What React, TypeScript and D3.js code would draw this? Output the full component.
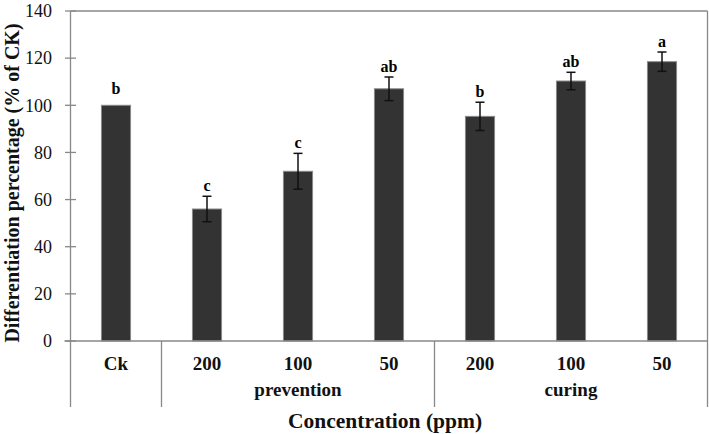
import React from "react";
import { scaleBand, scaleLinear, range } from "d3";

// values
const categories = ["Ck", "200", "100", "50", "200", "100", "50"];
const values = [100, 56, 72, 107, 95.3, 110.3, 118.5];
const errors = [0, 5.4, 7.6, 5, 6, 3.7, 4.1];
const letters = ["b", "c", "c", "ab", "b", "ab", "a"];
const groupNames = ["", "prevention", "curing"];
const groupStarts = [0, 1, 4];
const groupEnds = [1, 4, 7];
const yTicks = [0, 20, 40, 60, 80, 100, 120, 140];

const width = 709,
  height = 434;
const margin = { top: 11, right: 1.5, bottom: 93, left: 70.5 };
const font = "'Liberation Serif', 'Times New Roman', serif";
const axisColor = "#888";

export default function App() {
  const innerWidth = width - margin.left - margin.right;
  const innerHeight = height - margin.top - margin.bottom;

  const x = scaleBand<number>()
    .domain(range(categories.length))
    .range([0, innerWidth])
    .paddingInner(0.68)
    .paddingOuter(0.34);

  const y = scaleLinear().domain([0, 140]).range([innerHeight, 0]);

  const step = x.step();
  const edge = (i: number) => i * step;

  return (
    <svg
      width={width}
      height={height}
      style={{ position: "absolute", left: 0, top: 0, background: "#fff" }}
    >
      <g transform={`translate(${margin.left}, ${margin.top})`}>
        {/* plot frame */}
        <line x1={0} x2={innerWidth} y1={0} y2={0} stroke={axisColor} strokeWidth={1.3} />
        <line x1={innerWidth} x2={innerWidth} y1={0} y2={innerHeight + 66} stroke={axisColor} strokeWidth={1.3} />

        {/* bars */}
        {values.map((v, i) => (
          <rect
            key={i}
            x={x(i)}
            y={y(v)}
            width={x.bandwidth()}
            height={innerHeight - y(v)}
            fill="#333"
            stroke="#8a8a8a"
            strokeWidth={1}
          />
        ))}

        {/* error bars */}
        {values.map((v, i) => {
          if (!errors[i]) return null;
          const cx = (x(i) as number) + x.bandwidth() / 2;
          return (
            <g key={i} stroke="#111" strokeWidth={1.5}>
              <line x1={cx} x2={cx} y1={y(v + errors[i])} y2={y(v - errors[i])} />
              <line x1={cx - 4.5} x2={cx + 4.5} y1={y(v + errors[i])} y2={y(v + errors[i])} />
              <line x1={cx - 4.5} x2={cx + 4.5} y1={y(v - errors[i])} y2={y(v - errors[i])} />
            </g>
          );
        })}

        {/* significance letters */}
        {values.map((v, i) => (
          <text
            key={i}
            x={(x(i) as number) + x.bandwidth() / 2}
            y={y(v + errors[i]) - (errors[i] ? 5 : 11)}
            textAnchor="middle"
            fontFamily={font}
            fontWeight="bold"
            fontSize={16}
          >
            {letters[i]}
          </text>
        ))}

        {/* y axis */}
        <line x1={0} x2={0} y1={0} y2={innerHeight + 66} stroke={axisColor} strokeWidth={1.3} />
        {yTicks.map(t => (
          <g key={t} transform={`translate(0, ${y(t)})`}>
            <line x1={-5.5} x2={5.5} stroke={axisColor} strokeWidth={1.3} />
            <text
              x={-18.5}
              dy="0.35em"
              textAnchor="end"
              fontFamily={font}
              fontSize={18}
              fill="#111"
            >
              {t}
            </text>
          </g>
        ))}

        {/* x axis */}
        <line x1={-6} x2={innerWidth} y1={innerHeight} y2={innerHeight} stroke={axisColor} strokeWidth={1.3} />
        {groupEnds.map((e, gi) =>
          e < categories.length ? (
            <line
              key={gi}
              x1={edge(e)}
              x2={edge(e)}
              y1={innerHeight}
              y2={innerHeight + 66}
              stroke={axisColor}
              strokeWidth={1.3}
            />
          ) : null
        )}
        {categories.map((c, i) => (
          <text
            key={i}
            x={(x(i) as number) + x.bandwidth() / 2}
            y={innerHeight + 29}
            textAnchor="middle"
            fontFamily={font}
            fontWeight="bold"
            fontSize={19}
            fill="#111"
          >
            {c}
          </text>
        ))}
        {groupNames.map((g, gi) => (
          <text
            key={gi}
            x={(edge(groupStarts[gi]) + edge(groupEnds[gi])) / 2}
            y={innerHeight + 55}
            textAnchor="middle"
            fontFamily={font}
            fontWeight="bold"
            fontSize={19}
            fill="#111"
          >
            {g}
          </text>
        ))}
        <text
          x={innerWidth / 2 - 4}
          y={innerHeight + 87}
          textAnchor="middle"
          fontFamily={font}
          fontWeight="bold"
          fontSize={21.5}
          fill="#111"
        >
          Concentration (ppm)
        </text>
        <text
          transform={`translate(${-52}, ${innerHeight / 2 + 7}) rotate(-90)`}
          textAnchor="middle"
          fontFamily={font}
          fontWeight="bold"
          fontSize={20}
          fill="#111"
        >
          Differentiation percentage (% of CK)
        </text>
      </g>
    </svg>
  );
}
